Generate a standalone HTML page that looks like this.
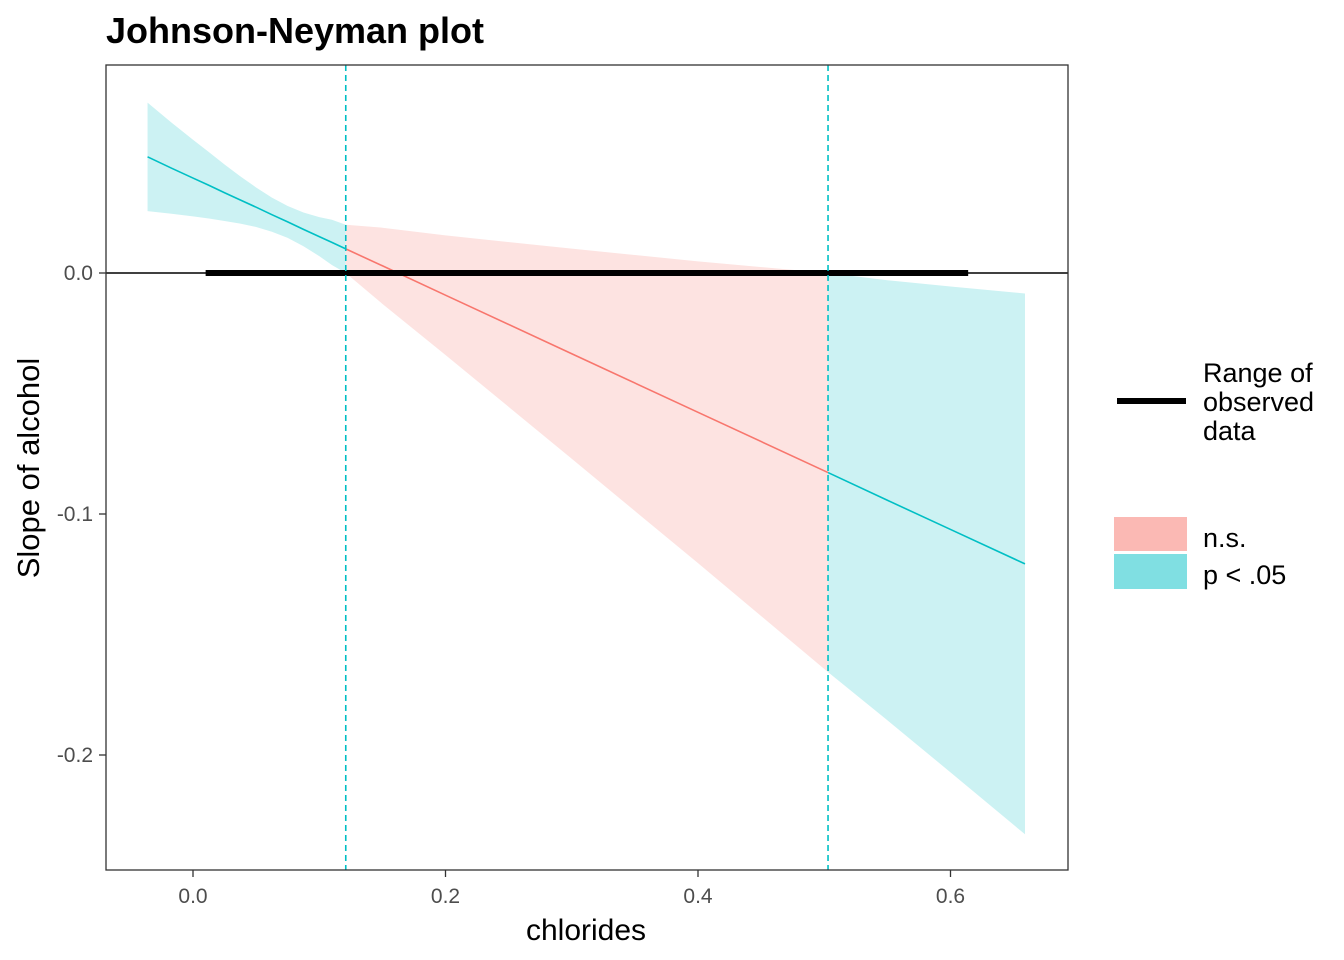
<!DOCTYPE html>
<html><head><meta charset="utf-8"><style>
html,body{margin:0;padding:0;background:#fff;}
svg{display:block;font-family:"Liberation Sans",Arial,sans-serif;}
</style></head><body>
<svg id="chart" width="1344" height="960" viewBox="0 0 1344 960">
<text x="106" y="43" font-size="36" font-weight="bold" fill="#000">Johnson-Neyman plot</text>
<g id="plot"></g>
<rect x="106" y="65" width="962" height="805" fill="none" stroke="#333" stroke-width="1.3"/>
<g id="axes"></g>
<text x="586" y="940" font-size="30" text-anchor="middle" fill="#000">chlorides</text>
<text transform="translate(39,468) rotate(-90)" font-size="31" text-anchor="middle" fill="#000">Slope of alcohol</text>
<g>
<line x1="1117" y1="401" x2="1186" y2="401" stroke="#000" stroke-width="6"/>
<text x="1203" y="382" font-size="27" fill="#000">Range of</text>
<text x="1203" y="411" font-size="27" fill="#000">observed</text>
<text x="1203" y="440" font-size="27" fill="#000">data</text>
<rect x="1114" y="517" width="73" height="34" fill="#FBB9B4"/>
<rect x="1114" y="554" width="73" height="35" fill="#80DFE2"/>
<text x="1203" y="547" font-size="27" fill="#000">n.s.</text>
<text x="1203" y="584" font-size="27" fill="#000">p &lt; .05</text>
</g>
</svg>
<script>
const xs =    [-0.036, -0.017, 0, 0.0125, 0.025, 0.0375, 0.05, 0.0625, 0.075, 0.0875, 0.1, 0.11, 0.121, 0.15, 0.2, 0.3, 0.4, 0.503, 0.55, 0.6, 0.659];
const slope = [0.0482, 0.0435, 0.0394, 0.0364, 0.0333, 0.0303, 0.0273, 0.0242, 0.0212, 0.0181, 0.0151, 0.0127, 0.0100, 0.0030, -0.0092, -0.0335, -0.0578, -0.0828, -0.0943, -0.1064, -0.1207];
const halfw = [0.0225, 0.0189, 0.0159, 0.0138, 0.0117, 0.0098, 0.0082, 0.0071, 0.0066, 0.0070, 0.0081, 0.0094, 0.0100, 0.0158, 0.0248, 0.0436, 0.0626, 0.0828, 0.0913, 0.1008, 0.1122];
const jnPoints = [0.121, 0.503];
const observedRange = [0.010, 0.614];
const xTicks = [0.0, 0.2, 0.4, 0.6];
const xTickLabels = ["0.0", "0.2", "0.4", "0.6"];
const yTicks = [0.0, -0.1, -0.2];
const yTickLabels = ["0.0", "-0.1", "-0.2"];

const X = v => 193 + (v - 0) * 1262.5;
const Y = v => 273 - v * 2410;
const NS = "http://www.w3.org/2000/svg";
const plot = document.getElementById('plot');
const axes = document.getElementById('axes');
function mk(tag, attrs, parent){const e=document.createElementNS(NS,tag);for(const k in attrs)e.setAttribute(k,attrs[k]);parent.appendChild(e);return e;}

function segIdx(lo, hi){const r=[];xs.forEach((x,i)=>{if(x>=lo-1e-9&&x<=hi+1e-9)r.push(i);});return r;}
const segs = [
  {lo:xs[0], hi:jnPoints[0], fill:"#CCF2F3", line:"#00BFC4", name:"sig-left"},
  {lo:jnPoints[0], hi:jnPoints[1], fill:"#FDE3E1", line:"#F8766D", name:"ns-middle"},
  {lo:jnPoints[1], hi:xs[xs.length-1], fill:"#CCF2F3", line:"#00BFC4", name:"sig-right"}
];
segs.forEach(s=>{
  const idx = segIdx(s.lo, s.hi);
  const up = idx.map(i=>X(xs[i])+","+Y(slope[i]+halfw[i]));
  const dn = idx.slice().reverse().map(i=>X(xs[i])+","+Y(slope[i]-halfw[i]));
  const p = mk('polygon',{points:up.concat(dn).join(" "),fill:s.fill},plot);
  
  
});
const zl = mk('line',{x1:106,x2:1068,y1:Y(0),y2:Y(0),stroke:"#000","stroke-width":1.5},plot);


segs.forEach(s=>{
  const idx = segIdx(s.lo, s.hi);
  const l = mk('polyline',{points:idx.map(i=>X(xs[i])+","+Y(slope[i])).join(" "),fill:"none",stroke:s.line,"stroke-width":1.6},plot);
  
  
});
const rl = mk('line',{x1:X(observedRange[0]),x2:X(observedRange[1]),y1:Y(0),y2:Y(0),stroke:"#000","stroke-width":6},plot);


jnPoints.forEach((v,i)=>{
  const d = mk('line',{x1:X(v),x2:X(v),y1:65,y2:870,stroke:"#00BFC4","stroke-width":1.6,"stroke-dasharray":"6,4"},plot);
  
  
});
xTicks.forEach((v,i)=>{
  const t = mk('line',{x1:X(v),x2:X(v),y1:870,y2:877,stroke:"#333","stroke-width":1.3},axes);
  
  
  const tx = mk('text',{x:X(v),y:903,"font-size":21,"text-anchor":"middle",fill:"#4D4D4D"},axes);
  tx.textContent = xTickLabels[i];
  
  
});
yTicks.forEach((v,i)=>{
  const t = mk('line',{x1:99,x2:106,y1:Y(v),y2:Y(v),stroke:"#333","stroke-width":1.3},axes);
  
  
  const tx = mk('text',{x:93,y:Y(v)+7,"font-size":21,"text-anchor":"end",fill:"#4D4D4D"},axes);
  tx.textContent = yTickLabels[i];
  
  
});
</script>
</body></html>
